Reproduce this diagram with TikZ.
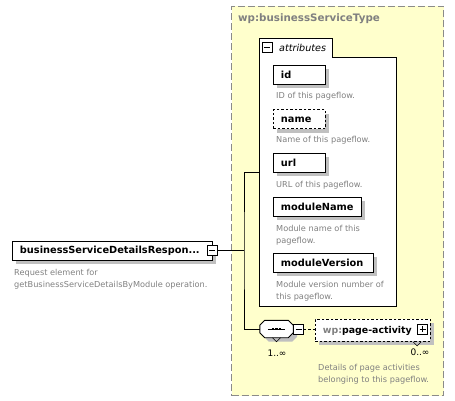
\documentclass[tikz,border=0pt]{standalone}
\usepackage{fontspec}
\setmainfont{DejaVu Sans}
\usetikzlibrary{shadows}
\definecolor{ylw}{HTML}{FFFFCC}
\definecolor{shd}{HTML}{C0C0C0}
\definecolor{dgray}{HTML}{808080}
\definecolor{bgray}{HTML}{8A8A8A}
\begin{document}
\begin{tikzpicture}[x=1pt,y=-1pt,
  myshadow/.style={drop shadow={shadow xshift=4pt, shadow yshift=-4pt, fill=shd, opacity=1}},
  elem/.style={draw=black, fill=white, line width=0.9pt, anchor=north west, inner xsep=7.5pt, inner ysep=0pt,
    minimum height=19pt, align=left, font=\fontsize{9.8}{12}\selectfont\bfseries, myshadow},
  desc/.style={anchor=north west, inner sep=0pt, align=left, text=dgray, font=\fontsize{8.2}{11.7}\selectfont},
  conn/.style={line width=0.9pt, draw=black},
  icon/.style={draw=black, fill=white, minimum size=10pt, inner sep=0pt, line width=0.8pt},
  minusicon/.style={icon, path picture={\draw[line width=0.8pt] ([xshift=2pt]path picture bounding box.west) -- ([xshift=-2pt]path picture bounding box.east);}},
  plusicon/.style={icon, path picture={\draw[line width=0.8pt] ([xshift=2pt]path picture bounding box.west) -- ([xshift=-2pt]path picture bounding box.east)
     ([yshift=2pt]path picture bounding box.south) -- ([yshift=-2pt]path picture bounding box.north);}},
  mult/.style={inner sep=0pt, font=\fontsize{9}{11}\selectfont},
  vmark/.style={line width=0.6pt, draw=black}
]
\useasboundingbox (0,0) rectangle (455,401);

% type box
\node[draw=bgray, fill=ylw, line width=1pt, dash pattern=on 7pt off 3pt, anchor=north west,
      minimum width=212pt, minimum height=389pt, inner sep=0pt] (type) at (231,6) {};
\node[anchor=west, inner sep=0pt, text=dgray, font=\fontsize{10.3}{12}\selectfont\bfseries] (title) at (238,19) {wp:businessServiceType};

% attributes group
\draw[line width=0.9pt, fill=white] (259,38) -- (332,38) -- (332,57) -- (396,57) -- (396,306) -- (259,306) -- cycle;
\node[anchor=north west, minimum width=137pt, minimum height=268pt, inner sep=0pt] (attrbox) at (259,38) {};
\node[minusicon] (aminus) at (267,47.5) {};
\node[anchor=west, inner sep=0pt, font=\fontsize{9.6}{12}\selectfont\itshape] (attrlbl) at (279,47.5) {attributes};

\node[elem, text width=37pt] (id) at (273,65) {id};
\node[desc] (iddesc) at (276,92) {ID of this pageflow.};
\node[elem, text width=37pt, dash pattern=on 2.5pt off 2pt] (name) at (273,109.5) {name};
\node[desc] (namedesc) at (276,136) {Name of this pageflow.};
\node[elem, text width=37pt] (url) at (273,153) {url};
\node[desc] (urldesc) at (276,181) {URL of this pageflow.};
\node[elem, text width=73pt] (mname) at (273,197) {moduleName};
\node[desc] (mnamedesc) at (276,225) {Module name of this\\pageflow.};
\node[elem, text width=85pt] (mver) at (273,253) {moduleVersion};
\node[desc] (mverdesc) at (276,281) {Module version number of\\this pageflow.};

% main element
\node[elem, text width=185pt] (main) at (12,241) {businessServiceDetailsRespon...};
\node[minusicon] (mminus) at (212,250.5) {};
\node[desc] (maindesc) at (14,269) {Request element for\\getBusinessServiceDetailsByModule operation.};

% sequence compositor
\node[minimum width=33pt, minimum height=17pt, inner sep=0pt] (seq) at (276.5,329) {};
\filldraw[line width=0.9pt, fill=white, myshadow]
  ([xshift=5pt]seq.north west) -- ([xshift=-5pt]seq.north east) -- ([yshift=-5pt]seq.north east)
  -- ([yshift=5pt]seq.south east) -- ([xshift=-5pt]seq.south east) -- ([xshift=5pt]seq.south west)
  -- ([yshift=5pt]seq.south west) -- ([yshift=-5pt]seq.north west) -- cycle;
\draw[line width=0.9pt] ([xshift=8pt]seq.west) -- ([xshift=-8pt]seq.east);
\foreach \dx in {-3.5,0,3.5} \fill ([shift={(\dx-1.3,-1.3)}]seq.center) rectangle ++(2.6,2.6);
\draw[vmark] ([xshift=-4pt]seq.south) -- ([yshift=-4pt]seq.south) -- ([xshift=4pt]seq.south);
\node[minusicon] (sminus) at (298.5,329) {};
\node[mult] (seqmult) at (277,353) {1..∞};

% page-activity
\node[draw=black, fill=white, line width=0.9pt, dash pattern=on 2.5pt off 2pt, anchor=north west,
      minimum width=115pt, minimum height=22pt, inner xsep=7.5pt, inner ysep=0pt, text width=100pt, align=left,
      font=\fontsize{9.4}{12}\selectfont\bfseries, myshadow] (pa) at (315,319) {\textcolor{dgray}{wp:}page-activity};
\node[plusicon] (pplus) at (422.5,329) {};
\draw[vmark] ([xshift=-4pt]pa.south -| pplus.west) -- ([yshift=-4pt]pa.south -| pplus.west) -- ([xshift=4pt]pa.south -| pplus.west);
\node[mult] (pamult) at (420,352.5) {0..∞};
\node[desc] (padesc) at (318,364) {Details of page activities\\belonging to this pageflow.};

% connectors
\coordinate (junc) at (244,250.5);
\draw[conn] (mminus.east) -- (junc);
\draw[conn] (attrbox.west) -| (junc) |- (seq.west);
\draw[line width=0.8pt, dash pattern=on 2.5pt off 2pt] (sminus.east) -- (sminus.east -| pa.west);
\end{tikzpicture}
\end{document}
